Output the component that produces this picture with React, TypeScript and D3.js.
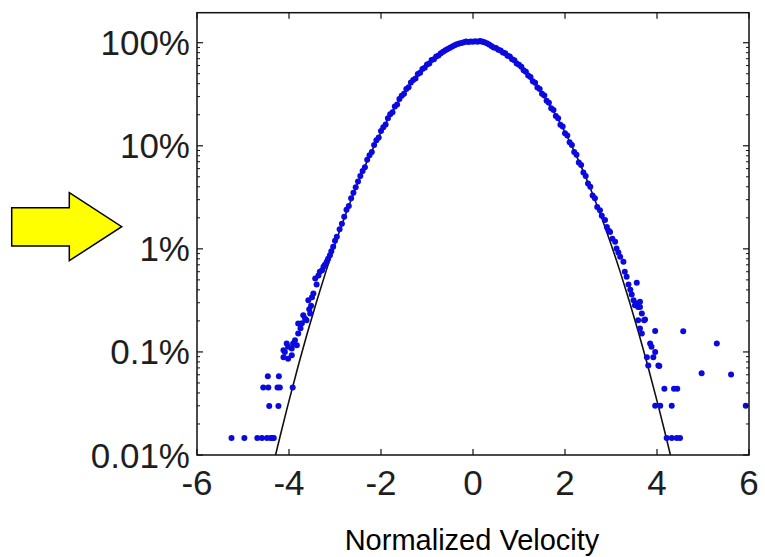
import React from "react";
import * as d3 from "d3";

// ---- Data (velocity in normalized units, probability in %) ----
const coreVelocity = [
  -2.70, -2.65, -2.60, -2.55, -2.50, -2.45, -2.40, -2.35, -2.30, -2.25, -2.20, -2.15, -2.10, -2.05,
  -2.00, -1.95, -1.90, -1.85, -1.80, -1.75, -1.70, -1.65, -1.60, -1.55, -1.50, -1.45, -1.40, -1.35,
  -1.30, -1.25, -1.20, -1.15, -1.10, -1.05, -1.00, -0.95, -0.90, -0.85, -0.80, -0.75, -0.70, -0.65,
  -0.60, -0.55, -0.50, -0.45, -0.40, -0.35, -0.30, -0.25, -0.20, -0.15, -0.10, -0.05, 0.00, 0.05,
  0.10, 0.15, 0.20, 0.25, 0.30, 0.35, 0.40, 0.45, 0.50, 0.55, 0.60, 0.65, 0.70, 0.75, 0.80, 0.85,
  0.90, 0.95, 1.00, 1.05, 1.10, 1.15, 1.20, 1.25, 1.30, 1.35, 1.40, 1.45, 1.50, 1.55, 1.60, 1.65,
  1.70, 1.75, 1.80, 1.85, 1.90, 1.95, 2.00, 2.05, 2.10, 2.15, 2.20, 2.25, 2.30, 2.35, 2.40, 2.45,
  2.50, 2.55, 2.60, 2.65, 2.70,
];
const coreProbability = [
  2.6, 3.1, 3.5, 3.95, 4.5, 5.1, 5.7, 6.2, 7.3, 8.1, 8.7, 10.2, 11.3, 12.0,
  13.9, 15.1, 16.1, 18.5, 20.2, 21.2, 24.0, 25.2, 28.4, 30.6, 31.9, 35.6, 37.0, 41.0,
  43.5, 45.0, 49.6, 51.0, 55.5, 57.0, 61.5, 63.0, 67.8, 69.0, 73.6, 75.0, 79.2, 81.5,
  84.6, 86.8, 89.5, 92.0, 94.5, 96.5, 98.0, 99.5, 101.0, 102.5, 101.5, 103.0, 102.0, 103.5,
  102.0, 104.0, 102.5, 101.0, 99.0, 96.0, 93.0, 90.0, 88.8, 85.5, 84.0, 80.2, 78.9, 74.8, 73.3, 69.0,
  67.4, 63.0, 61.2, 58.4, 54.0, 52.3, 48.0, 46.5, 42.3, 40.9, 36.8, 35.5, 32.0, 30.8, 27.3, 26.2,
  23.1, 22.2, 19.4, 18.5, 16.0, 15.4, 13.2, 12.6, 10.8, 10.2, 8.7, 8.2, 6.9, 6.5, 5.5, 5.1,
  4.3, 4.0, 3.3, 3.1, 2.55,
];

const leftTailVelocity = [
  -2.75, -2.80, -2.85, -2.90, -2.96, -3.00, -3.04, -3.08, -3.11, -3.15, -3.18, -3.22, -3.25, -3.28,
  -3.33, -3.36, -3.40, -3.43, -3.47, -3.50, -3.52, -3.54, -3.56, -3.58, -3.62, -3.65, -3.69, -3.72,
  -3.75, -3.80, -3.80, -3.83, -3.87, -3.91, -3.94, -3.94, -4.02, -4.02, -4.05, -4.09, -4.12, -4.12,
  -3.92, -4.20, -4.25, -4.45, -4.56, -4.22, -4.46, -4.23, -4.43,
  -5.25, -4.97, -4.69, -4.59, -4.48, -4.40, -4.36, -4.33,
];
const leftTailProbability = [
  2.4, 2.05, 1.75, 1.55, 1.31, 1.2, 1.05, 0.95, 0.869, 0.80, 0.748, 0.70, 0.669, 0.62,
  0.598, 0.55, 0.45, 0.516, 0.369, 0.34, 0.28, 0.236, 0.26, 0.317, 0.203, 0.21, 0.227, 0.19,
  0.17, 0.189, 0.151, 0.116, 0.13, 0.121, 0.108, 0.093, 0.112, 0.086, 0.121, 0.1, 0.104, 0.089,
  0.0451, 0.0451, 0.0451, 0.0451, 0.0451, 0.058, 0.058, 0.0299, 0.0299,
  0.0146, 0.0146, 0.0146, 0.0146, 0.0146, 0.0146, 0.0146, 0.0146,
];

const rightTailVelocity = [
  2.76, 2.80, 2.87, 2.91, 2.95, 2.98, 3.03, 3.09, 3.12, 3.16, 3.20, 3.27, 3.30, 3.34, 3.38, 3.42,
  3.45, 3.49, 3.56, 3.63, 3.67, 3.59, 3.52, 3.59, 3.63, 3.56, 3.72, 3.63, 3.67, 3.74, 3.96, 4.57,
  5.30, 3.88, 3.96, 3.92, 3.78, 3.85, 3.81, 4.05, 4.03, 4.97, 5.61, 4.16, 4.37, 4.44, 3.96, 4.07,
  4.32, 5.93, 4.21, 4.32, 4.43, 4.50,
];
const rightTailProbability = [
  2.37, 2.1, 1.90, 1.63, 1.5, 1.46, 1.25, 1.17, 1.01, 0.92, 0.836, 0.748, 0.598, 0.535, 0.45, 0.40,
  0.36, 0.317, 0.295, 0.273, 0.236, 0.203, 0.284, 0.273, 0.306, 0.468, 0.203, 0.169, 0.151, 0.206, 0.16, 0.159,
  0.121, 0.112, 0.1, 0.089, 0.089, 0.121, 0.074, 0.073, 0.074, 0.062, 0.0605, 0.044, 0.044, 0.044, 0.030, 0.030,
  0.030, 0.030, 0.0146, 0.0146, 0.0146, 0.0146,
];

// Gaussian reference curve (read at 0.2 steps), in %
const curveVelocity = [
  -4.3, -4.2, -4.0, -3.8, -3.6, -3.4, -3.2, -3.0, -2.8, -2.6, -2.4, -2.2, -2.0, -1.8, -1.6, -1.4,
  -1.2, -1.0, -0.8, -0.6, -0.4, -0.2, 0, 0.2, 0.4, 0.6, 0.8, 1.0, 1.2, 1.4, 1.6, 1.8, 2.0, 2.2,
  2.4, 2.6, 2.8, 3.0, 3.2, 3.4, 3.6, 3.8, 4.0, 4.2, 4.3,
];
const curveProbability = [
  0.00966, 0.0148, 0.0335, 0.0731, 0.1534, 0.309, 0.598, 1.11, 1.98, 3.40, 5.61, 8.89, 13.53, 19.79,
  27.80, 37.53, 48.68, 60.65, 72.61, 83.53, 92.31, 98.02, 100, 98.02, 92.31, 83.53, 72.61, 60.65,
  48.68, 37.53, 27.80, 19.79, 13.53, 8.89, 5.61, 3.40, 1.98, 1.11, 0.598, 0.309, 0.1534, 0.0731,
  0.0335, 0.0148, 0.00966,
];

const xTicks = [-6, -4, -2, 0, 2, 4, 6];
const yTicks = [0.01, 0.1, 1, 10, 100];
const yTickLabels = ["0.01%", "0.1%", "1%", "10%", "100%"];
const xLabel = "Normalized Velocity";

export default function App() {
  const W = 765, H = 557;
  const left = 197, right = 749, top = 12.7, bottom = 455;
  const x = d3.scaleLinear().domain([-6, 6]).range([left, right]);
  const y = d3.scaleLog().domain([0.01, 195.5]).range([bottom, top]);

  const minorTicks: number[] = [];
  [0.01, 0.1, 1, 10, 100].forEach((d) => {
    for (let k = 2; k <= 9; k++) {
      const v = d * k;
      if (v < 195.5) minorTicks.push(v);
    }
  });

  const line = d3
    .line<number>()
    .x((_, i) => x(curveVelocity[i]))
    .y((_, i) => y(curveProbability[i]))
    .curve(d3.curveNatural);
  const curvePath = line(curveVelocity) || "";

  const pts: [number, number][] = [];
  coreVelocity.forEach((v, i) => pts.push([v, coreProbability[i]]));
  leftTailVelocity.forEach((v, i) => pts.push([v, leftTailProbability[i]]));
  rightTailVelocity.forEach((v, i) => pts.push([v, rightTailProbability[i]]));

  const font = "'Liberation Sans', Arial, Helvetica, sans-serif";
  const textColor = "#1e1e1e";

  return (
    <svg
      width={W}
      height={H}
      style={{ position: "absolute", left: 0, top: 0, background: "#fff" }}
    >
      <defs>
        <clipPath id="plotClip">
          <rect x={left} y={top} width={right - left} height={bottom - top} />
        </clipPath>
      </defs>

      {/* yellow arrow annotation */}
      <path
        d="M11.7,207.7 L69.3,207.7 L69.3,192.7 L121.7,226.7 L69.3,260.7 L69.3,246 L11.7,246 Z"
        fill="#ffff00"
        stroke="#000"
        strokeWidth={1.5}
        strokeLinejoin="miter"
      />

      {/* curve */}
      <g clipPath="url(#plotClip)">
        <path d={curvePath} fill="none" stroke="#111" strokeWidth={1.6} />
        {pts.map(([v, p], i) => (
          <circle key={i} cx={x(v)} cy={y(p)} r={3} fill="#0a0ae0" />
        ))}
      </g>

      {/* frame */}
      <rect
        x={left}
        y={top}
        width={right - left}
        height={bottom - top}
        fill="none"
        stroke="#111"
        strokeWidth={1.5}
      />

      {/* x ticks */}
      {xTicks.map((t) => (
        <g key={"x" + t}>
          <line x1={x(t)} x2={x(t)} y1={bottom} y2={bottom - 6} stroke="#111" strokeWidth={1.2} />
          <line x1={x(t)} x2={x(t)} y1={top} y2={top + 6} stroke="#111" strokeWidth={1.2} />
          <text
            x={x(t)}
            y={495}
            textAnchor="middle"
            fontFamily={font}
            fontSize={35}
            fill={textColor}
          >
            {String(t)}
          </text>
        </g>
      ))}

      {/* y ticks */}
      {yTicks.map((t, i) => (
        <g key={"y" + t}>
          <line x1={left} x2={left + 6} y1={y(t)} y2={y(t)} stroke="#111" strokeWidth={1.2} />
          <line x1={right} x2={right - 6} y1={y(t)} y2={y(t)} stroke="#111" strokeWidth={1.2} />
          <text
            x={190}
            y={y(t) + 12.5}
            textAnchor="end"
            fontFamily={font}
            fontSize={35}
            fill={textColor}
          >
            {yTickLabels[i]}
          </text>
        </g>
      ))}
      {minorTicks.map((t) => (
        <g key={"m" + t}>
          <line x1={left} x2={left + 3} y1={y(t)} y2={y(t)} stroke="#111" strokeWidth={1} />
          <line x1={right} x2={right - 3} y1={y(t)} y2={y(t)} stroke="#111" strokeWidth={1} />
        </g>
      ))}

      <text
        x={472}
        y={550}
        textAnchor="middle"
        fontFamily={font}
        fontSize={29}
        fill="#000"
      >
        {xLabel}
      </text>
    </svg>
  );
}
